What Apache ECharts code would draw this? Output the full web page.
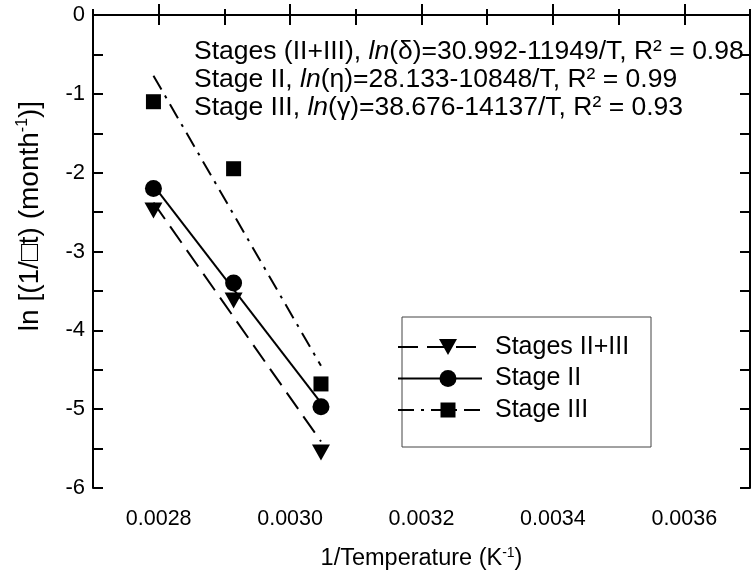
<!DOCTYPE html>
<html>
<head>
<meta charset="utf-8">
<script src="https://cdn.jsdelivr.net/npm/echarts@6/dist/echarts.min.js"></script>
<style>html,body{margin:0;padding:0;background:#fff;}#c{width:752px;height:583px;}</style>
</head>
<body>
<div id="c"></div>
<script>
// 1/T values (K^-1)
const invT = [0.002792, 0.002914, 0.003047];
// measured ln(1/t)
const stage23 = [-2.48, -3.62, -5.55];
const stage2 = [-2.20, -3.40, -4.97];
const stage3 = [-1.10, -1.95, -4.68];
// fitted line end points
const fitX = [0.002792, 0.003047];
const fit23 = [-2.38, -5.41];
const fit2 = [-2.16, -4.92];
const fit3 = [-0.77, -4.45];
const xTicks = [0.0028, 0.0030, 0.0032, 0.0034, 0.0036];
const yTicks = [0, -1, -2, -3, -4, -5, -6];
const equations = [
  ['Stages (II+III), ', 'ln', '(δ)=30.992-11949/T, R² = 0.98'],
  ['Stage II, ', 'ln', '(η)=28.133-10848/T, R² = 0.99'],
  ['Stage III, ', 'ln', '(γ)=38.676-14137/T, R² = 0.93']
];
const legendNames = ['Stages II+III', 'Stage II', 'Stage III'];

const FONT = '"Liberation Sans", Arial, sans-serif';
const pair = (xs, ys) => xs.map((x, i) => [x, ys[i]]);

const chart = echarts.init(document.getElementById('c'), null, {renderer: 'canvas'});

const BLK = {color: '#000', width: 2};
const xBase = {
  type: 'value', min: 0.0027, max: 0.0037, interval: 0.0001,
  axisLine: {lineStyle: BLK},
  axisTick: {inside: true, length: 6, lineStyle: BLK},
  splitLine: {show: false}
};
const yBase = {
  type: 'value', min: -6, max: 0, interval: 1,
  axisLine: {lineStyle: BLK},
  axisTick: {inside: true, length: 10, lineStyle: BLK},
  minorTick: {show: true, splitNumber: 2, length: 10, lineStyle: BLK},
  splitLine: {show: false}
};

const lineType23 = [20, 9];
const lineType3 = [16, 7, 3, 7];

const option = {
  animation: false,
  backgroundColor: '#fff',
  grid: {left: 93, right: 2, top: 15, bottom: 95, containLabel: false},
  xAxis: [
    Object.assign({}, xBase, {
      position: 'bottom',
      name: '{a|1/Temperature (K}{s|-1}{a|)}',
      nameLocation: 'middle', nameGap: 58,
      nameTextStyle: {rich: {a: {fontFamily: FONT, fontSize: 23.5, color: '#000'}, s: {fontFamily: FONT, fontSize: 14, color: '#000', padding: [0, 0, 12, 0]}}},
      axisLabel: {fontFamily: FONT, fontSize: 21.5, color: '#000', margin: 20, customValues: xTicks, formatter: v => v.toFixed(4)}
    }),
    Object.assign({}, xBase, {
      position: 'bottom',
      axisLine: {show: false},
      axisTick: {inside: true, length: 11, lineStyle: BLK, customValues: xTicks},
      axisLabel: {show: false}
    }),
    Object.assign({}, xBase, {position: 'top', axisTick: {inside: true, length: 10, lineStyle: BLK}, axisLabel: {show: false}})
  ],
  yAxis: [
    Object.assign({}, yBase, {
      position: 'left',
      axisLabel: {fontFamily: FONT, fontSize: 22, color: '#000', margin: 8}
    }),
    Object.assign({}, yBase, {position: 'right', axisLabel: {show: false}})
  ],
  series: [
    {type: 'line', name: 'fit23', data: pair(fitX, fit23), symbol: 'none', lineStyle: {color: '#000', width: 2, type: lineType23}, z: 2},
    {type: 'line', name: 'fit2', data: pair(fitX, fit2), symbol: 'none', lineStyle: {color: '#000', width: 2, type: 'solid'}, z: 2},
    {type: 'line', name: 'fit3', data: pair(fitX, fit3), symbol: 'none', lineStyle: {color: '#000', width: 2, type: lineType3}, z: 2},
    {type: 'scatter', name: legendNames[0], data: pair(invT, stage23), symbol: 'triangle', symbolRotate: 180, symbolSize: [18, 16], itemStyle: {color: '#000', opacity: 1}, z: 3},
    {type: 'scatter', name: legendNames[1], data: pair(invT, stage2), symbol: 'circle', symbolSize: 17, itemStyle: {color: '#000', opacity: 1}, z: 3},
    {type: 'scatter', name: legendNames[2], data: pair(invT, stage3), symbol: 'rect', symbolSize: 15, itemStyle: {color: '#000', opacity: 1}, z: 3}
  ],
  graphic: []
};

// y-axis title
option.graphic.push({
  type: 'text', x: 30, y: 216, rotation: Math.PI / 2, z: 10,
  style: {
    text: '{a|ln [(1/□t) (month}{s|-1}{a|)]}',
    align: 'center', verticalAlign: 'middle',
    rich: {a: {fontFamily: FONT, fontSize: 28, fill: '#000'}, s: {fontFamily: FONT, fontSize: 16, fill: '#000', padding: [0, 0, 14, 0]}}
  }
});

// equation annotations
equations.forEach((eq, i) => {
  option.graphic.push({
    type: 'text', x: 194, y: 52 + i * 28, z: 10,
    style: {
      text: '{n|' + eq[0] + '}{i|' + eq[1] + '}{n|' + eq[2] + '}',
      verticalAlign: 'middle',
      rich: {
        n: {fontFamily: FONT, fontSize: 26.5, fill: '#000'},
        i: {fontFamily: FONT, fontSize: 26.5, fontStyle: 'italic', fill: '#000'}
      }
    }
  });
});

// legend box
option.graphic.push({
  type: 'rect', shape: {x: 402, y: 317, width: 249, height: 130}, z: 5,
  style: {fill: '#fff', stroke: '#444', lineWidth: 1}
});
const legTypes = [lineType23, null, lineType3];
const legSymbols = ['tri', 'circle', 'rect'];
legendNames.forEach((nm, i) => {
  const y = 347 + i * 31.5;
  option.graphic.push({
    type: 'line', shape: {x1: 398, y1: y, x2: 482, y2: y}, z: 6,
    style: {stroke: '#000', lineWidth: 2, lineDash: legTypes[i]}
  });
  if (legSymbols[i] === 'tri') {
    option.graphic.push({type: 'polygon', shape: {points: [[439, y - 8], [457, y - 8], [448, y + 8]]}, z: 7, style: {fill: '#000'}});
  } else if (legSymbols[i] === 'circle') {
    option.graphic.push({type: 'circle', shape: {cx: 448, cy: y, r: 8.5}, z: 7, style: {fill: '#000'}});
  } else {
    option.graphic.push({type: 'rect', shape: {x: 440.5, y: y - 7.5, width: 15, height: 15}, z: 7, style: {fill: '#000'}});
  }
  option.graphic.push({
    type: 'text', x: 495, y: y, z: 7,
    style: {text: nm, fontFamily: FONT, fontSize: 25, fill: '#000', verticalAlign: 'middle'}
  });
});

chart.setOption(option);
</script>
</body>
</html>
